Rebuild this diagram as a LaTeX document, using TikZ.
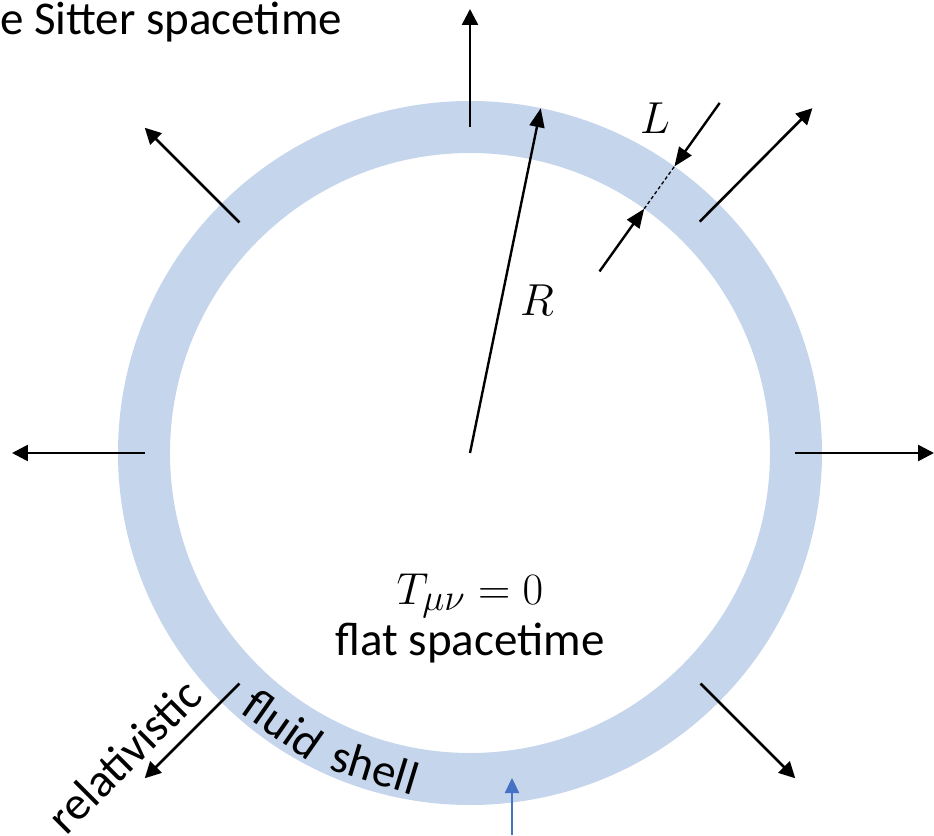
\documentclass[tikz,border=0pt]{standalone}
\usepackage{fontspec}
\setmainfont{Carlito}
\usetikzlibrary{arrows.meta}
\definecolor{shellcol}{RGB}{197,213,236}
\definecolor{accentblue}{RGB}{68,114,196}
\tikzset{
  outarrow/.style={line width=2.6pt, -{Triangle[length=16pt,width=16pt]}},
  dimarrow/.style={line width=2.4pt, -{Triangle[length=19pt,width=15pt]}},
  lbl/.style={font=\fontsize{47}{56}\selectfont, inner sep=0pt},
  mathlbl/.style={font=\fontsize{24.88}{30}\selectfont, inner sep=0pt, scale=1.8}
}
\begin{document}
\begin{tikzpicture}[x=1pt,y=1pt]
\useasboundingbox (-470,-382) rectangle (464,453);
% shell
\fill[shellcol, even odd rule] (0,0) circle (352) (0,0) circle (300);
\coordinate (c) at (0,0);
% outward arrows
\coordinate (n-s) at (90:326);   \coordinate (n-e) at (90:444);
\coordinate (w-s) at (180:325);  \coordinate (w-e) at (180:458);
\coordinate (e-s) at (0:325);    \coordinate (e-e) at (0:464);
\coordinate (nw-s) at (135:326); \coordinate (nw-e) at (135:460);
\coordinate (ne-s) at (45.2:326); \coordinate (ne-e) at (45.2:486);
\coordinate (se-s) at (-45:326); \coordinate (se-e) at (-45:460);
\coordinate (sw-s) at (-135:326); \coordinate (sw-e) at (-135:460);
\foreach \d in {n,w,e,nw,ne,se,sw}{\draw[outarrow] (\d-s) -- (\d-e);}
% radius
\coordinate (Rtip) at (78.4:352);
\draw[dimarrow] (c) -- (Rtip);
\node[mathlbl] (Rl) at (67,153) {$R$};
% thickness L
\coordinate (Lout) at (54.5:352);
\coordinate (Lin) at (54.5:300);
\coordinate (Ltop) at (54.5:430);
\coordinate (Lbot) at (54.5:223);
\draw[dimarrow] (Ltop) -- (Lout);
\draw[dimarrow] (Lbot) -- (Lin);
\draw[line width=1.3pt, dash pattern=on 3.5pt off 2.5pt] (Lin) -- (Lout);
\node[mathlbl] (Ll) at (185,335) {$L$};
% texts
\node[lbl, anchor=base west] (dS) at (-470,418) {e Sitter spacetime};
\node[mathlbl, anchor=base] (T) at (0,-151) {$T_{\mu\nu}=0$};
\node[lbl, anchor=base] (flat) at (0,-202) {flat spacetime};
\node[lbl, rotate=45] (rel) at (-346,-303) {relativistic};
\node[lbl, rotate=-35] (fluid) at (235.5:329) {fluid};
\node[lbl, rotate=-17] (shell) at (253.2:328) {shell};
% blue pointer
\coordinate (bb) at (42,-382);
\coordinate (bt) at (42,-325);
\draw[line width=2.4pt, accentblue, -{Triangle[length=15pt,width=14pt]}] (bb) -- (bt);
\end{tikzpicture}
\end{document}
